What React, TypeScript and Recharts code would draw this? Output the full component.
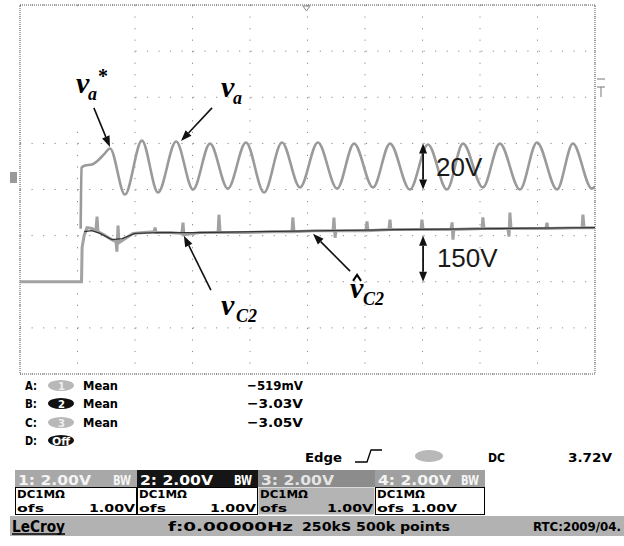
import {
  CartesianGrid,
  Line,
  LineChart,
  ReferenceArea,
  ReferenceDot,
  ReferenceLine,
  XAxis,
  YAxis,
} from "recharts";

// Screen: 10 x 8 divisions, 200 ms/div. Traces use their own volt scales.
const timeTicks = [0, 200, 400, 600, 800, 1000, 1200, 1400, 1600, 1800, 2000];
const divTicks = [-4, -3, -2, -1, 0, 1, 2, 3, 4];

// v_a (20 V/div), ms / V
const vaTime = [
  211, 214, 226, 250, 271, 292, 313, 365, 424, 480, 543, 602, 661, 723, 786,
  849, 911, 974, 1036, 1103, 1162, 1228, 1287, 1356, 1419, 1485, 1541, 1610,
  1669, 1739, 1798, 1868, 1923, 1989, 2000,
];
const vaVolt = [
  -27, -0.5, 0.4, 0.8, 2.6, 5.2, 7.8, -12.2, 11.2, -11.3, 10.8, -10.0, 9.9,
  -9.6, 10.4, -11.3, 10.4, -9.1, 10.4, -9.6, 9.9, -9.1, 9.9, -10.0, 9.5, -10.0,
  9.9, -9.1, 9.9, -10.0, 10.4, -10.0, 9.9, -9.6, -8.7,
];

// v_C2 measured (150 V/div), ms / V
const vc2Time = [
  0, 214, 216, 223, 233, 250, 264, 268, 271, 292, 313, 334, 337, 341, 344, 365,
  393, 431, 466, 470, 473, 522, 563, 567, 570, 626, 689, 692, 696, 783, 870,
  946, 949, 953, 1026, 1089, 1092, 1096, 1099, 1203, 1207, 1210, 1283, 1287,
  1290, 1395, 1398, 1402, 1499, 1503, 1506, 1509, 1607, 1610, 1614, 1697, 1701,
  1704, 1708, 1829, 1833, 1836, 1955, 1958, 1962, 2000,
];
const vc2Volt = [
  0, 0, 111, 150, 176, 173, 166, 212, 163, 153, 140, 130, 98, 183, 127, 140,
  157, 160, 163, 176, 160, 160, 157, 192, 153, 160, 160, 218, 160, 160, 163,
  163, 209, 163, 166, 166, 209, 143, 166, 166, 196, 166, 170, 202, 170, 170,
  202, 170, 170, 193, 137, 170, 173, 209, 173, 173, 147, 225, 173, 173, 192,
  173, 176, 218, 176, 176,
];

// estimated v_C2
const vc2HatTime = [223, 250, 278, 320, 355, 400, 487, 626, 835, 1078, 1391, 1669, 2000];
const vc2HatVolt = [163, 166, 157, 137, 140, 157, 160, 160, 163, 166, 170, 173, 176];

const measureRows = [
  { slot: "A", ch: "1", stat: "Mean", value: "−519mV" },
  { slot: "B", ch: "2", stat: "Mean", value: "−3.03V" },
  { slot: "C", ch: "3", stat: "Mean", value: "−3.05V" },
];

const channelBoxes = [
  { id: "1", scale: "2.00V", bw: true, coupling: "DC1MΩ", offset: "1.00V" },
  { id: "2", scale: "2.00V", bw: true, coupling: "DC1MΩ", offset: "1.00V" },
  { id: "3", scale: "2.00V", bw: false, coupling: "DC1MΩ", offset: "1.00V" },
  { id: "4", scale: "2.00V", bw: true, coupling: "DC1MΩ", offset: "1.00V" },
];

const zip = (ts: number[], vs: number[]) => ts.map((t, i) => ({ t, v: vs[i] }));
const vaData = zip(vaTime, vaVolt);
const vc2Data = zip(vc2Time, vc2Volt);
const vc2HatData = zip(vc2HatTime, vc2HatVolt);

const SERIF = "'Liberation Serif', 'Times New Roman', serif";
const SANS = "'Liberation Sans', Arial, sans-serif";
const SCOPE = "'DejaVu Sans Condensed', 'DejaVu Sans', sans-serif";

function headPoints(x1: number, y1: number, x2: number, y2: number, len: number, half: number) {
  const L = Math.hypot(x2 - x1, y2 - y1) || 1;
  const ux = (x2 - x1) / L;
  const uy = (y2 - y1) / L;
  const bx = x2 - ux * len;
  const by = y2 - uy * len;
  return {
    bx,
    by,
    pts: `${x2},${y2} ${bx - uy * half},${by + ux * half} ${bx + uy * half},${by - ux * half}`,
  };
}

const singleArrow = (p: any) => {
  const h = headPoints(p.x1, p.y1, p.x2, p.y2, 11, 4);
  return (
    <g>
      <line x1={p.x1} y1={p.y1} x2={h.bx} y2={h.by} stroke="#111" strokeWidth={1.6} />
      <polygon points={h.pts} fill="#111" />
    </g>
  );
};

const doubleArrow = (p: any) => {
  const a = headPoints(p.x1, p.y1, p.x2, p.y2, 10, 4);
  const b = headPoints(p.x2, p.y2, p.x1, p.y1, 10, 4);
  return (
    <g>
      <line x1={b.bx} y1={b.by} x2={a.bx} y2={a.by} stroke="#111" strokeWidth={1.8} />
      <polygon points={a.pts} fill="#111" />
      <polygon points={b.pts} fill="#111" />
    </g>
  );
};

function VarLabel({
  cx,
  cy,
  sub,
  subDx,
  star = false,
  hat = false,
}: {
  cx: number;
  cy: number;
  sub: string;
  subDx: number;
  star?: boolean;
  hat?: boolean;
}) {
  return (
    <g fontFamily={SERIF} fontStyle="italic" fontWeight="bold" fill="#000">
      <text x={cx} y={cy} fontSize={30}>
        v
      </text>
      {hat && (
        <polyline
          points={`${cx + 3},${cy - 17} ${cx + 7},${cy - 23} ${cx + 11},${cy - 17}`}
          fill="none"
          stroke="#000"
          strokeWidth={2}
        />
      )}
      <text x={cx + subDx} y={cy + 7} fontSize={18}>
        {sub}
      </text>
      {star && (
        <text x={cx + 22} y={cy - 10} fontSize={20} fontStyle="normal">
          *
        </text>
      )}
    </g>
  );
}

const scaleText = (label: string) => (p: any) => (
  <text x={p.cx} y={p.cy} fontFamily={SANS} fontSize={26} fill="#1a1a1a">
    {label}
  </text>
);

function ScopeText({
  x,
  y,
  w,
  children,
  fill = "#000",
  size = 13,
}: {
  x: number;
  y: number;
  w: number;
  children: string;
  fill?: string;
  size?: number;
}) {
  return (
    <text
      x={x}
      y={y}
      textLength={w}
      lengthAdjust="spacingAndGlyphs"
      fontFamily={SCOPE}
      fontWeight="bold"
      fontSize={size}
      fill={fill}
    >
      {children}
    </text>
  );
}

const boxEdges = [15, 137, 258, 375, 485];
const boxLook = [
  { head: "#a8a8a8", headText: "#f4f4f4", body: "#ffffff" },
  { head: "#151515", headText: "#ffffff", body: "#ffffff" },
  { head: "#8c8c8c", headText: "#e4e4e4", body: "#b4b4b4" },
  { head: "#a0a0a0", headText: "#f4f4f4", body: "#ffffff" },
];
const rowBase = [390, 408, 427];

function InfoPanel() {
  return (
    <svg width={624} height={546} style={{ position: "absolute", left: 0, top: 0, pointerEvents: "none" }}>
      {/* screen-edge markers */}
      <rect x={10} y={172} width={7} height={11} fill="#9a9a9a" />
      <line x1={597} y1={79} x2={605} y2={79} stroke="#777" />
      <line x1={597} y1={87} x2={605} y2={87} stroke="#777" />
      <line x1={601} y1={87} x2={601} y2={97} stroke="#777" />
      <polygon points="303,6 310,6 306.5,11" fill="none" stroke="#888" />

      {measureRows.map((r, i) => (
        <g key={r.slot}>
          <ScopeText x={25} y={rowBase[i]} w={12}>{`${r.slot}:`}</ScopeText>
          <ellipse
            cx={61}
            cy={rowBase[i] - 4.5}
            rx={13}
            ry={5.5}
            fill={r.ch === "2" ? "#111" : "#b8b8b8"}
          />
          <ScopeText x={58} y={rowBase[i]} w={7} fill={r.ch === "2" ? "#fff" : "#eee"} size={11}>
            {r.ch}
          </ScopeText>
          <ScopeText x={83} y={rowBase[i]} w={35}>{r.stat}</ScopeText>
          <ScopeText x={247} y={rowBase[i]} w={56}>{r.value}</ScopeText>
        </g>
      ))}
      <ScopeText x={25} y={445} w={12}>D:</ScopeText>
      <ellipse cx={61} cy={440.5} rx={13} ry={5.5} fill="#111" />
      <ScopeText x={52} y={445} w={18} fill="#fff" size={11}>
        Off
      </ScopeText>

      {/* trigger line */}
      <ScopeText x={305} y={462} w={37}>Edge</ScopeText>
      <polyline points="355,462 367,462 371,450 382,450" fill="none" stroke="#000" strokeWidth={1.3} />
      <ellipse cx={429} cy={456} rx={14} ry={6} fill="#b8b8b8" />
      <ScopeText x={488} y={462} w={17}>DC</ScopeText>
      <ScopeText x={568} y={462} w={44}>3.72V</ScopeText>

      {/* channel boxes */}
      {channelBoxes.map((c, i) => {
        const x0 = boxEdges[i];
        const x1 = boxEdges[i + 1];
        const look = boxLook[i];
        const offEnd = i === 3 ? 457 : x1 - 2;
        return (
          <g key={c.id}>
            <rect x={x0} y={470} width={x1 - x0} height={17} fill={look.head} />
            <rect
              x={x0 + 0.5}
              y={487.5}
              width={x1 - x0 - 1}
              height={27}
              fill={look.body}
              stroke={look.body === "#ffffff" ? "#000" : "none"}
            />
            <ScopeText x={x0 + 3} y={485} w={73} fill={look.headText} size={14}>{`${c.id}: ${c.scale}`}</ScopeText>
            {c.bw && (
              <ScopeText x={x1 - 24} y={485} w={18} fill={look.headText} size={14}>
                BW
              </ScopeText>
            )}
            <ScopeText x={x0 + 2} y={498} w={48} size={11}>{c.coupling}</ScopeText>
            <ScopeText x={x0 + 2} y={512} w={27} size={11}>ofs</ScopeText>
            <ScopeText x={offEnd - 46} y={512} w={46} size={11}>{c.offset}</ScopeText>
          </g>
        );
      })}

      {/* status bar */}
      <rect x={10} y={516} width={614} height={20} fill="#b2b2b2" />
      <ScopeText x={12} y={532} w={53} size={15}>LeCroy</ScopeText>
      <line x1={12} y1={534} x2={65} y2={534} stroke="#000" strokeWidth={1.5} />
      <ScopeText x={168} y={531} w={125}>f:0.00000Hz</ScopeText>
      <ScopeText x={302} y={531} w={148}>250kS 500k points</ScopeText>
      <ScopeText x={533} y={531} w={88}>RTC:2009/04.</ScopeText>
    </svg>
  );
}

export default function App() {
  return (
    <div style={{ position: "absolute", left: 0, top: 0, width: 624, height: 546, background: "#fff" }}>
      <LineChart width={624} height={380} margin={{ top: 5, right: 29, bottom: 6, left: 20 }}>
        <XAxis type="number" dataKey="t" domain={[0, 2000]} ticks={timeTicks} hide allowDataOverflow />
        <YAxis yAxisId="div" type="number" domain={[-4, 4]} ticks={divTicks} hide allowDataOverflow />
        <YAxis yAxisId="va" type="number" domain={[-90, 70]} hide allowDataOverflow />
        <YAxis yAxisId="vc2" type="number" domain={[-300, 900]} hide allowDataOverflow />

        <CartesianGrid yAxisId="div" stroke="#8a8a8a" strokeDasharray="1.2 10.33" />
        <ReferenceArea yAxisId="div" x1={0} x2={390} y1={1.3} y2={3.85} fill="#fff" fillOpacity={1} stroke="none" />
        <ReferenceArea
          yAxisId="div"
          x1={0}
          x2={2000}
          y1={-4}
          y2={4}
          fill="none"
          stroke="#555"
          strokeDasharray="1 1"
          ifOverflow="visible"
        />

        <Line
          data={vc2Data}
          dataKey="v"
          yAxisId="vc2"
          type="linear"
          stroke="#a2a2a2"
          strokeWidth={3}
          dot={false}
          isAnimationActive={false}
        />
        <Line
          data={vc2HatData}
          dataKey="v"
          yAxisId="vc2"
          type="linear"
          stroke="#333"
          strokeWidth={1.3}
          dot={false}
          isAnimationActive={false}
        />
        <Line
          data={vaData}
          dataKey="v"
          yAxisId="va"
          type="monotone"
          stroke="#9a9a9a"
          strokeWidth={2.6}
          dot={false}
          isAnimationActive={false}
        />

        {/* annotations */}
        <ReferenceLine yAxisId="div" segment={[{ x: 257, y: 1.77 }, { x: 313, y: 0.92 }]} shape={singleArrow} />
        <ReferenceLine yAxisId="div" segment={[{ x: 668, y: 1.77 }, { x: 560, y: 1.05 }]} shape={singleArrow} />
        <ReferenceLine yAxisId="div" segment={[{ x: 664, y: -2.18 }, { x: 570, y: -1.0 }]} shape={singleArrow} />
        <ReferenceLine yAxisId="div" segment={[{ x: 1148, y: -1.77 }, { x: 1019, y: -0.96 }]} shape={singleArrow} />
        <ReferenceLine yAxisId="va" segment={[{ x: 1402, y: 10 }, { x: 1402, y: -10 }]} shape={doubleArrow} />
        <ReferenceLine yAxisId="vc2" segment={[{ x: 1402, y: 150 }, { x: 1402, y: 0 }]} shape={doubleArrow} />

        <ReferenceDot
          yAxisId="div"
          x={195}
          y={2.09}
          shape={(p: any) => <VarLabel cx={p.cx} cy={p.cy} sub="a" subDx={12} star />}
        />
        <ReferenceDot
          yAxisId="div"
          x={699}
          y={2.01}
          shape={(p: any) => <VarLabel cx={p.cx} cy={p.cy} sub="a" subDx={12} />}
        />
        <ReferenceDot
          yAxisId="div"
          x={699}
          y={-2.72}
          shape={(p: any) => <VarLabel cx={p.cx} cy={p.cy} sub="C2" subDx={15} />}
        />
        <ReferenceDot
          yAxisId="div"
          x={1148}
          y={-2.35}
          shape={(p: any) => <VarLabel cx={p.cx} cy={p.cy} sub="C2" subDx={13} hat />}
        />
        <ReferenceDot yAxisId="div" x={1447} y={0.29} shape={scaleText("20V")} />
        <ReferenceDot yAxisId="div" x={1450} y={-1.68} shape={scaleText("150V")} />
      </LineChart>
      <InfoPanel />
    </div>
  );
}
